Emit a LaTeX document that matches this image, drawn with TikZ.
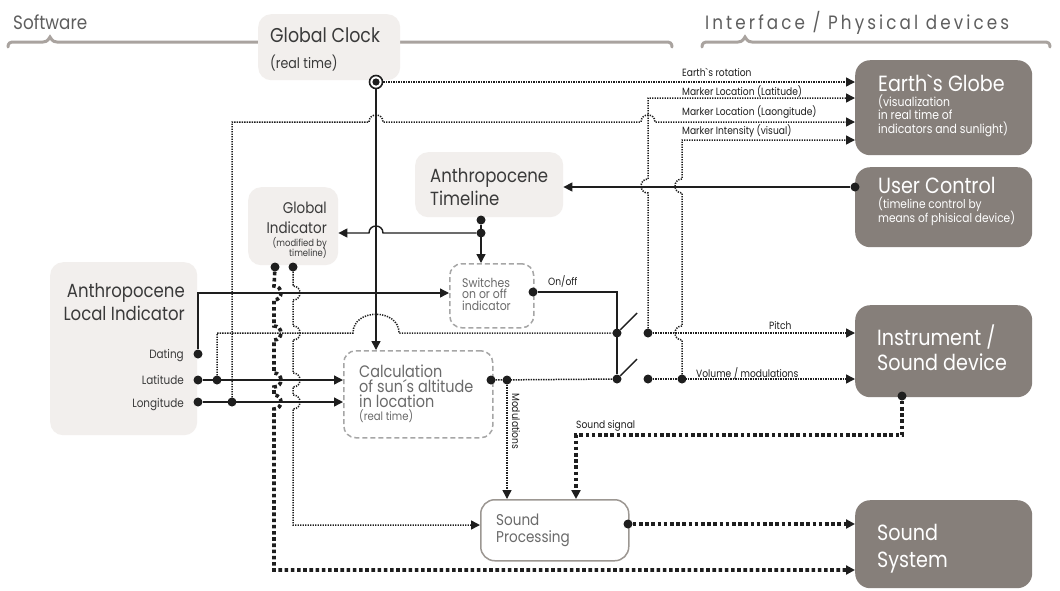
\documentclass[tikz,border=0pt]{standalone}
\usepackage{fontspec}
\setmainfont{Poppins}[FakeStretch=0.87]
\newfontfamily\hdrwide{Poppins}[FakeStretch=0.87,LetterSpace=16]
\usetikzlibrary{arrows.meta}
\definecolor{lightbox}{HTML}{F2EFED}
\definecolor{darkbox}{HTML}{867F7A}
\definecolor{bracegray}{HTML}{A9A39F}
\definecolor{ink}{HTML}{1E1E1E}
\definecolor{boxtxt}{HTML}{3A3A3A}
\definecolor{greytxt}{HTML}{6A6A6A}
\definecolor{hdr}{HTML}{5E5E5E}
\definecolor{dashgray}{HTML}{A6A6A6}
\definecolor{spborder}{HTML}{9C9792}
\newcommand{\mytxt}[6]{\node[anchor=base #1, inner sep=0pt, text=#2, font=\fontsize{#3}{#3}\selectfont] (#4) at (#5) {#6};}
\begin{document}
\begin{tikzpicture}[x=1pt,y=-1pt,
  lbox/.style={fill=lightbox, rounded corners=13pt, inner sep=0pt, anchor=north west},
  dbox/.style={fill=darkbox, rounded corners=15pt, inner sep=0pt, anchor=north west},
  dbx/.style={draw=dashgray, line width=1.5pt, dash pattern=on 5pt off 3pt, rounded corners=12pt, inner sep=0pt, anchor=north west},
  wbox/.style={draw=spborder, fill=white, line width=1.5pt, rounded corners=14pt, inner sep=0pt, anchor=north west},
  brace/.style={draw=bracegray, line width=3pt, line cap=round},
  wire/.style={line width=1.4pt, draw=ink},
  dots/.style={line width=1.5pt, draw=ink, dash pattern=on 1.3pt off 1.2pt},
  tdots/.style={line width=3.6pt, draw=ink, dash pattern=on 3.6pt off 2.6pt},
  arr/.style={-{Triangle[length=9pt,width=9pt]}},
  jn/.style={circle, fill=ink, inner sep=0pt, minimum size=9pt}]
\fill[white] (0,0) rectangle (1060,590);
\useasboundingbox (0,0) rectangle (1060,590);
% braces
\draw[brace] (8,47) .. controls (8,43) and (10,42) .. (14,42) -- (43,42) .. controls (48,42) and (49,38) .. (50,37) .. controls (51,38) and (52,42) .. (57,42) -- (666,42) .. controls (670,42) and (672,43) .. (672,47);
\draw[brace] (702,47) .. controls (702,43) and (704,42) .. (708,42) -- (738,42) .. controls (743,42) and (744,38) .. (745,37) .. controls (746,38) and (747,42) .. (752,42) -- (1044,42) .. controls (1048,42) and (1050,43) .. (1050,47);
% boxes
\node[lbox, minimum width=142pt, minimum height=66pt] (clock) at (258,14) {};
\node[lbox, minimum width=148pt, minimum height=65pt] (tl) at (415,152) {};
\node[lbox, minimum width=90pt, minimum height=78pt] (gi) at (248,187) {};
\node[lbox, minimum width=147pt, minimum height=173pt] (li) at (50,262) {};
\node[dbx, minimum width=84pt, minimum height=64pt] (sw) at (449,263) {};
\node[dbx, minimum width=149pt, minimum height=87pt] (calc) at (343,350) {};
\node[wbox, minimum width=148pt, minimum height=61pt] (sp) at (480,499) {};
\node[dbox, minimum width=177pt, minimum height=95pt] (globe) at (855,60) {};
\node[dbox, minimum width=177pt, minimum height=80pt] (uc) at (855,167) {};
\node[dbox, minimum width=177pt, minimum height=92pt] (inst) at (855,305) {};
\node[dbox, minimum width=177pt, minimum height=88pt] (ss) at (855,500) {};
% junction dots
\node[jn] (tl1) at (481,220) {};
\node[jn] (tl2) at (481,233) {};
\node[jn] (gid1) at (275,267) {};
\node[jn] (gid2) at (293,267) {};
\node[jn] (dd) at (198,354) {};
\node[jn] (dlat) at (198,380) {};
\node[jn] (dlon) at (198,402) {};
\node[jn] (jlat) at (217,380) {};
\node[jn] (jlon) at (232,402) {};
\node[jn] (swo) at (533,292) {};
\node[jn] (cr) at (491,380) {};
\node[jn] (cm) at (507,380) {};
\node[jn] (s1) at (617,333) {};
\node[jn] (s2) at (617,379) {};
\node[jn] (p1) at (648,333) {};
\node[jn] (p2) at (648,379) {};
\node[jn] (p3) at (682,379) {};
\node[jn] (uco) at (855,187) {};
\node[jn] (instd) at (902,396) {};
\node[jn] (spo) at (628,524) {};
\coordinate (m1) at (648,98);
\coordinate (m2) at (232,122);
\coordinate (m3) at (682,140);
\coordinate (dcorner) at (198,293);
\coordinate (oncorner) at (617,292);
\coordinate (ss1) at (576,435);
\coordinate (gx1) at (274,570);
\coordinate (gx2) at (293,525);
% solid wires
\draw[wire,arr] (uco) -- (uco -| tl.east);
\draw[wire,arr] (tl1) -- (tl1 |- sw.north);
\draw[wire,arr] (tl2) -- (383,233) .. controls (383,223.7) and (369,223.7) .. (369,233) -- (tl2 -| gi.east);
\draw[wire,arr] (dd) -- (dcorner) -- (dcorner -| sw.west);
\draw[wire,arr] (dlat) -- (dlat -| calc.west);
\draw[wire,arr] (dlon) -- (dlon -| calc.west);
\draw[wire] (swo) -- (oncorner) -- (s2);
\draw[wire] (s1) -- ++(20,-20);
\draw[wire] (s2) -- ++(20,-20);
% thin dotted
\draw[dots,arr] (jlon) -- (m2) -- (369,122) .. controls (369,112.7) and (383,112.7) .. (383,122) -- (641,122) .. controls (641,112.7) and (655,112.7) .. (655,122) -- (m2 -| globe.west);
\draw[dots] (jlat) -- (217,333) -- (353,333) .. controls (353,308) and (399,308) .. (399,333) -- (s1);
\draw[dots] (cr) -- (s2);
\draw[dots,arr] (p1) -- (p1 -| inst.west);
\draw[dots,arr] (p2) -- (p2 -| inst.west);
\draw[dots,arr] (p1) -- (648,193) .. controls (638.7,193) and (638.7,179) .. (648,179) -- (m1) -- (m1 -| globe.west);
\draw[dots,arr] (p3) -- (682,340) .. controls (672.7,340) and (672.7,326) .. (682,326) -- (682,193) .. controls (672.7,193) and (672.7,179) .. (682,179) -- (m3) -- (m3 -| globe.west);
\draw[dots,arr] (cm) -- (cm |- sp.north);
\draw[dots,arr] (gid2) -- (293,286) .. controls (302.3,286) and (302.3,300) .. (293,300) -- (293,326) .. controls (302.3,326) and (302.3,340) .. (293,340) -- (293,373) .. controls (302.3,373) and (302.3,387) .. (293,387) -- (293,395) .. controls (302.3,395) and (302.3,409) .. (293,409) -- (gx2) -- (gx2 -| sp.west);
% thick dotted
\draw[tdots,arr] (gid1) -- (274,286) .. controls (283.3,286) and (283.3,300) .. (274,300) -- (274,326) .. controls (283.3,326) and (283.3,340) .. (274,340) -- (274,373) .. controls (283.3,373) and (283.3,387) .. (274,387) -- (274,395) .. controls (283.3,395) and (283.3,409) .. (274,409) -- (gx1) -- (gx1 -| ss.west);
\draw[tdots,arr] (instd) -- (instd |- ss1) -- (ss1) -- (ss1 |- sp.north);
\draw[tdots,arr] (spo) -- (spo -| ss.west);
% clock output
\node[circle, draw=ink, line width=1.6pt, fill=white, minimum size=13pt, inner sep=0pt] (cd) at (376,82) {};
\draw[wire,arr] (cd) -- (cd |- calc.north);
\draw[dots,arr] (cd) -- (cd -| globe.west);
\fill[ink] (cd.center) circle (3.6pt);
% texts
\mytxt{west}{hdr}{19.3}{tsw}{13,29}{Software}
\node[anchor=base west, inner sep=0pt, text=hdr, font=\hdrwide\fontsize{19.3}{19.3}\selectfont] (tif) at (705,29) {Interface / Physical devices};
\mytxt{west}{boxtxt}{20}{tc1}{270,42}{Global Clock}
\mytxt{west}{boxtxt}{14.5}{tc2}{270,68}{(real time)}
\mytxt{west}{boxtxt}{19}{tt1}{430,182}{Anthropocene}
\mytxt{west}{boxtxt}{19}{tt2}{430,205}{Timeline}
\mytxt{east}{boxtxt}{15.5}{tg1}{327,213}{Global}
\mytxt{east}{boxtxt}{15.5}{tg2}{327,233}{Indicator}
\mytxt{east}{boxtxt}{9.7}{tg3}{327,246}{(modified by}
\mytxt{east}{boxtxt}{9.7}{tg4}{327,256}{timeline)}
\mytxt{east}{boxtxt}{19}{tl1t}{185,297}{Anthropocene}
\mytxt{east}{boxtxt}{19}{tl2t}{185,320}{Local Indicator}
\mytxt{east}{boxtxt}{12}{tl3}{184,358}{Dating}
\mytxt{east}{boxtxt}{12}{tl4}{184,384}{Latitude}
\mytxt{east}{boxtxt}{12}{tl5}{184,407}{Longitude}
\mytxt{west}{greytxt}{12.5}{ts1}{462,287}{Switches}
\mytxt{west}{greytxt}{12.5}{ts2}{462,298}{on or off}
\mytxt{west}{greytxt}{12.5}{ts3}{462,310}{indicator}
\mytxt{west}{greytxt}{16.6}{tk1}{359,377}{Calculation}
\mytxt{west}{greytxt}{16.6}{tk2}{359,392}{of sun´s altitude}
\mytxt{west}{greytxt}{16.6}{tk3}{359,407}{in location}
\mytxt{west}{greytxt}{11.6}{tk4}{359,420}{(real time)}
\mytxt{west}{greytxt}{15.6}{tp1}{496,525}{Sound}
\mytxt{west}{greytxt}{15.6}{tp2}{496,542}{Processing}
\mytxt{west}{white}{22}{te1}{878,91}{Earth\textasciigrave s Globe}
\mytxt{west}{white}{12.5}{te2}{878,106}{(visualization}
\mytxt{west}{white}{12.5}{te3}{878,119}{in real time of}
\mytxt{west}{white}{12.5}{te4}{878,133}{indicators and sunlight)}
\mytxt{west}{white}{22}{tu1}{878,193}{User Control}
\mytxt{west}{white}{12.2}{tu2}{878,208}{(timeline control by}
\mytxt{west}{white}{12.2}{tu3}{878,222}{means of phisical device)}
\mytxt{west}{white}{22}{ti1}{877,345}{Instrument /}
\mytxt{west}{white}{22}{ti2}{877,370}{Sound device}
\mytxt{west}{white}{22}{tx1}{877,540}{Sound}
\mytxt{west}{white}{22}{tx2}{877,567}{System}
\mytxt{west}{ink}{10.5}{la1}{682,76}{Earth\textasciigrave s rotation}
\mytxt{west}{ink}{10.5}{la2}{682,95}{Marker Location (Latitude)}
\mytxt{west}{ink}{10.5}{la3}{682,115}{Marker Location (Laongitude)}
\mytxt{west}{ink}{10.5}{la4}{682,134}{Marker Intensity (visual)}
\mytxt{west}{ink}{10.5}{la5}{769,329}{Pitch}
\mytxt{west}{ink}{10.5}{la6}{696,377}{Volume / modulations}
\mytxt{west}{ink}{10.5}{la7}{548,285}{On/off}
\mytxt{west}{ink}{10.5}{la8}{576,428}{Sound signal}
\node[anchor=base west, inner sep=0pt, text=ink, font=\fontsize{10.5}{10.5}\selectfont, rotate=-90] (la9) at (512,393) {Modulations};
\end{tikzpicture}
\end{document}
